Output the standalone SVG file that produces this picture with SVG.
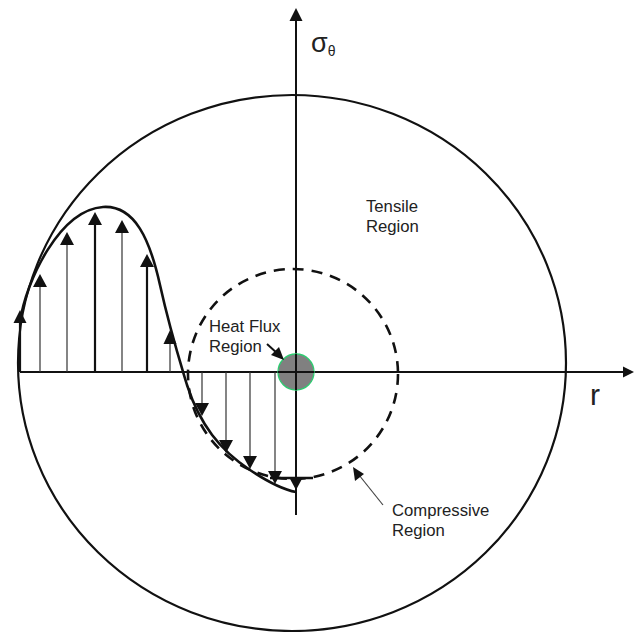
<svg xmlns="http://www.w3.org/2000/svg" width="634" height="632" viewBox="0 0 634 632">
<defs>
<style>
.ln{stroke:#111;fill:none}
.thin{stroke:#333;stroke-width:1.2}
.thk{stroke:#111;stroke-width:2.2}
.hd{fill:#111;stroke:none}
.lbl{font-family:"Liberation Sans",Arial,sans-serif;font-size:16.7px;fill:#222}
</style>
</defs>
<rect width="634" height="632" fill="#fff"/>
<g id="outer-circle">
<ellipse cx="292" cy="363" rx="274" ry="268" class="ln" stroke-width="2.2"/>
</g>
<g id="compressive-circle">
<circle cx="293" cy="374" r="105" class="ln" stroke-width="2.6" stroke-dasharray="11 8"/>
<line x1="270" y1="478" x2="313" y2="478" class="ln" stroke-width="2.4"/>
</g>
<g id="axes">
<line x1="20" y1="372" x2="624" y2="372" class="ln" stroke-width="2"/>
<polygon points="634,372 623,366.5 623,377.5" class="hd"/>
<line x1="296" y1="515" x2="296" y2="18" class="ln" stroke-width="2"/>
<polygon points="296,8 289.5,21 302.5,21" class="hd"/>
</g>
<g id="heat-flux-region">
<circle cx="296" cy="372" r="18" fill="#808080" stroke="#2ecc71" stroke-width="1.3"/>
<line x1="296" y1="354" x2="296" y2="390" class="ln" stroke-width="2"/>
<line x1="278" y1="372" x2="314" y2="372" class="ln" stroke-width="2"/>
</g>
<g id="stress-curve">
<path d="M20,322 C26,280 60,210 103,207 C135,205 150,240 160,285 C170,330 178,355 187,385 C200,425 220,450 250,470 C268,482 285,490 296,492" class="ln" stroke-width="2.6"/>
</g>
<g id="connectors">
<g id="tensile-arrows">
<line x1="20" y1="372" x2="20" y2="322" class="thk" stroke-width="3"/>
<polygon points="20,310 13.5,323 26.5,323" class="hd"/>
<line x1="40" y1="372" x2="40" y2="286" class="thin"/>
<polygon points="40,274 33,287 47,287" class="hd"/>
<line x1="67" y1="372" x2="67" y2="244" class="thin"/>
<polygon points="67,232 60,245 74,245" class="hd"/>
<line x1="95" y1="372" x2="95" y2="224" class="thk"/>
<polygon points="95,212 88,225 102,225" class="hd"/>
<line x1="122" y1="372" x2="122" y2="232" class="thin"/>
<polygon points="122,220 115,233 129,233" class="hd"/>
<line x1="147" y1="372" x2="147" y2="266" class="thk"/>
<polygon points="147,254 140,267 154,267" class="hd"/>
<line x1="170" y1="372" x2="170" y2="343" class="thin"/>
<polygon points="170,330 163.5,344 176.5,344" class="hd"/>
</g>
<g id="compressive-arrows">
<line x1="202" y1="372" x2="202" y2="404" class="thin"/>
<polygon points="202,416 195,403 209,403" class="hd"/>
<line x1="226" y1="372" x2="226" y2="441" class="thin"/>
<polygon points="226,453 219,440 233,440" class="hd"/>
<line x1="250" y1="372" x2="250" y2="457" class="thin"/>
<polygon points="250,469 243,456 257,456" class="hd"/>
<line x1="275" y1="372" x2="275" y2="472" class="thin"/>
<polygon points="275,484 268,471 282,471" class="hd"/>
<polygon points="296,490 289,477 303,477" class="hd"/>
</g>
<g id="label-pointers">
<line x1="267" y1="344" x2="278" y2="354" class="ln" stroke-width="2"/>
<polygon points="284,360 271,355 279,347" class="hd"/>
<line x1="383" y1="505" x2="359" y2="475" stroke="#444" stroke-width="1.2"/>
<polygon points="353,467 355,481 364,474" class="hd"/>
</g>
</g>
<g id="labels">
<text x="311" y="52" font-family="'Liberation Sans',Arial,sans-serif" font-size="27" fill="#222">σ<tspan font-size="14" dy="4">θ</tspan></text>
<text class="lbl" x="366" y="212">Tensile</text>
<text class="lbl" x="366" y="232">Region</text>
<text class="lbl" x="209" y="332">Heat Flux</text>
<text class="lbl" x="209" y="352">Region</text>
<text class="lbl" x="392" y="516">Compressive</text>
<text class="lbl" x="392" y="536">Region</text>
<text x="590" y="405" font-family="'Liberation Sans',Arial,sans-serif" font-size="30" fill="#222">r</text>
</g>
</svg>
